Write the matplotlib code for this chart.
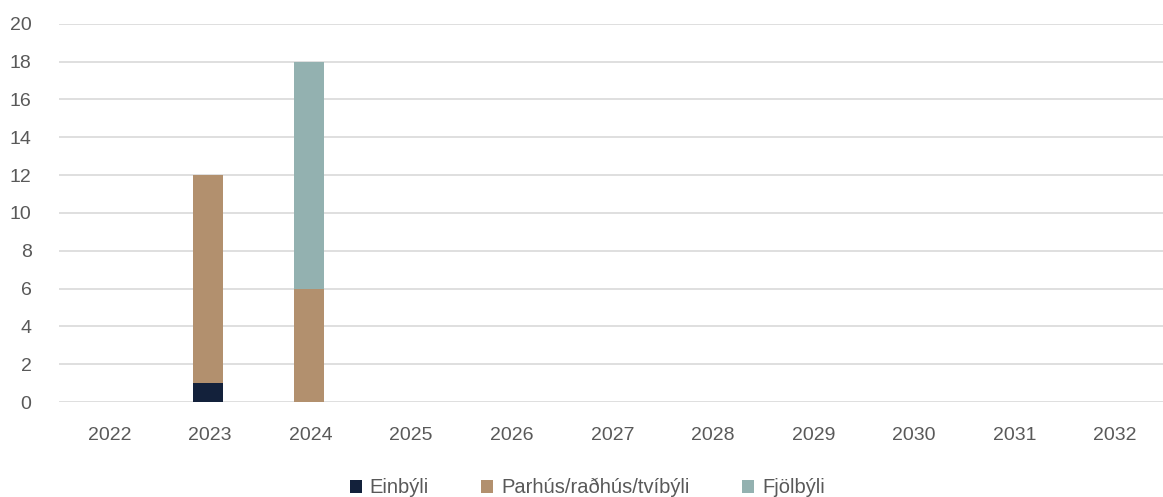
import numpy as np
import matplotlib.pyplot as plt

plt.rcParams['font.family'] = ['Liberation Sans', 'DejaVu Sans']

years = ['2022', '2023', '2024', '2025', '2026', '2027', '2028',
         '2029', '2030', '2031', '2032']
einbyli = [0, 1, 0, 0, 0, 0, 0, 0, 0, 0, 0]
parhus = [0, 11, 6, 0, 0, 0, 0, 0, 0, 0, 0]
fjolbyli = [0, 0, 12, 0, 0, 0, 0, 0, 0, 0, 0]

series = [
    ('Einbýli', einbyli, '#13213b'),
    ('Parhús/raðhús/tvíbýli', parhus, '#b2906e'),
    ('Fjölbýli', fjolbyli, '#93b1b0'),
]

fig = plt.figure(figsize=(11.63, 4.97), dpi=100)
ax = fig.add_axes([0.051, 0.191, 0.951, 0.761])

x = np.arange(len(years))
bottom = np.zeros(len(years))
for name, vals, col in series:
    vals = np.array(vals, dtype=float)
    ax.bar(x - 0.02, vals, width=0.3, bottom=bottom, color=col, label=name, zorder=3)
    bottom += vals

ax.set_ylim(0, 20)
ax.set_xlim(-0.5, len(years) - 0.5)
ax.set_yticks(range(0, 21, 2))
ax.set_xticks(x)
ax.set_xticklabels(years)
ax.grid(axis='y', color='#d9d9d9', linewidth=1.2, zorder=0)
for s in ax.spines.values():
    s.set_visible(False)
ax.tick_params(length=0, labelsize=14, colors='#595959')
ax.tick_params(axis='x', pad=18)
ax.tick_params(axis='y', pad=20)

leg = fig.legend(loc='lower center', bbox_to_anchor=(0.505, -0.037), ncol=3,
                 frameon=False, fontsize=14.5, handlelength=0.6, handleheight=0.6,
                 columnspacing=2.6, handletextpad=0.4)
for t in leg.get_texts():
    t.set_color('#595959')

fig.savefig('out.png', dpi=100)
